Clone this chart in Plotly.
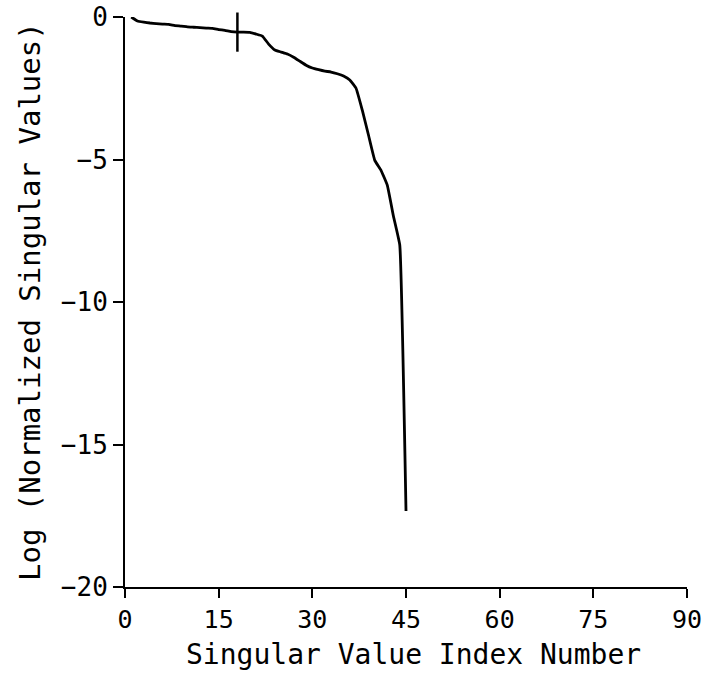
import plotly.graph_objects as go

# Data
index_numbers = list(range(1, 46))
log_singular_values = [
    0.0, -0.14, -0.18, -0.21, -0.23, -0.25, -0.26, -0.30, -0.32, -0.35,
    -0.36, -0.37, -0.39, -0.40, -0.44, -0.47, -0.51, -0.53, -0.53, -0.54,
    -0.60, -0.67, -0.95, -1.16, -1.23, -1.30, -1.41, -1.55, -1.69, -1.79,
    -1.85, -1.90, -1.93, -1.99, -2.07, -2.21, -2.50, -3.27, -4.15, -5.03,
    -5.38, -5.90, -7.00, -8.00, -17.33,
]
marked_index = 18

x_ticks = [0, 15, 30, 45, 60, 75, 90]
y_ticks = [0, -5, -10, -15, -20]
y_tick_text = ["0", "\u22125", "\u221210", "\u221215", "\u221220"]

FONT = "DejaVu Sans Mono"

fig = go.Figure()
fig.add_trace(go.Scatter(
    x=index_numbers, y=log_singular_values, mode="lines",
    line=dict(color="black", width=2.8, shape="spline", smoothing=0.3),
    cliponaxis=False, showlegend=False,
))
fig.add_trace(go.Scatter(
    x=[marked_index], y=[log_singular_values[marked_index - 1]], mode="markers",
    marker=dict(symbol="line-ns-open", size=28, color="black",
                line=dict(color="black", width=2.5)),
    cliponaxis=False, showlegend=False,
))

fig.update_layout(
    width=702, height=675,
    margin=dict(l=125, r=15, t=17, b=88),
    paper_bgcolor="white", plot_bgcolor="white",
    font=dict(family=FONT, color="black", size=25),
    annotations=[
        dict(text="Singular Value Index Number", xref="paper", yref="paper",
             x=0.514, y=-0.118, xanchor="center", yanchor="middle",
             showarrow=False, font=dict(family=FONT, size=28)),
        dict(text="Log (Normalized Singular Values)", xref="paper", yref="paper",
             x=-0.169, y=0.5, xanchor="center", yanchor="middle", textangle=-90,
             showarrow=False, font=dict(family=FONT, size=29)),
    ],
)
fig.update_xaxes(
    range=[0, 90], tickvals=x_ticks, ticktext=[str(v) for v in x_ticks],
    showgrid=False, zeroline=False, showline=True, linecolor="black", linewidth=2,
    ticks="outside", ticklen=9, tickwidth=2, tickcolor="black",
    tickfont=dict(family=FONT, size=25), ticklabeloverflow="allow", automargin=False,
)
fig.update_yaxes(
    range=[-20, 0], tickvals=y_ticks, ticktext=y_tick_text,
    showgrid=False, zeroline=False, showline=True, linecolor="black", linewidth=2,
    ticks="outside", ticklen=10, tickwidth=2, tickcolor="black",
    tickfont=dict(family=FONT, size=26), ticklabeloverflow="allow", automargin=False,
)

# remove the page's default body margin so the figure sits at the window's corner
fig.write_html("out.html", config={"displayModeBar": False},
               post_script="document.body.style.margin='0';")
